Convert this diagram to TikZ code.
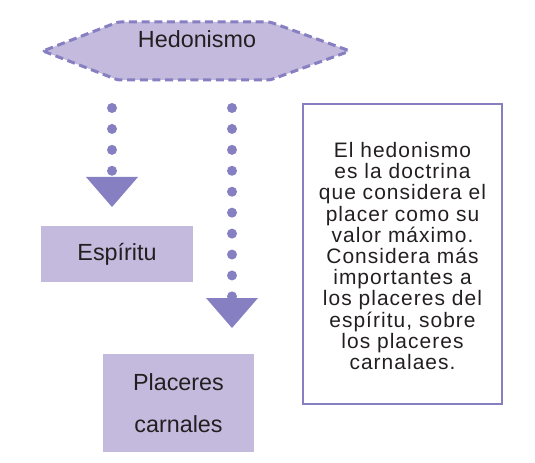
\documentclass[tikz,border=0pt]{standalone}
\usepackage{fontspec}
\setmainfont{Liberation Sans}
\newfontfamily\textoancho[LetterSpace=5]{Liberation Sans}
\usetikzlibrary{arrows.meta}
\definecolor{lila}{RGB}{196,186,221}
\definecolor{morado}{RGB}{134,127,193}
\definecolor{tinta}{RGB}{35,31,32}

\begin{document}
\begin{tikzpicture}[x=0.75pt,y=0.75pt,yscale=-1,xscale=1,
  caja/.style={fill=lila, inner sep=0pt, text=tinta, align=center, font=\fontsize{17.5}{32}\selectfont},
  hexa/.style={fill=lila, draw=morado, line width=2.25pt, dash pattern=on 6pt off 3.5pt, rounded corners=2pt},
  puntos/.style={draw=morado, line width=7.5pt, line cap=round, dash pattern=on 0pt off 15.7pt, -{Triangle[width=39pt,length=22.5pt,line width=0pt]}}
]
\useasboundingbox (0,0) rectangle (535,463);

%Shape: Hexagon [hedonismo]
\draw [hexa] (43,51) -- (118,22) -- (270,22) -- (350,51) -- (270,80) -- (118,80) -- cycle ;
\node [anchor=base, text=tinta, font=\fontsize{17.5}{21}\selectfont] (hedonismo) at (197,48) {Hedonismo};

%Shape: Rectangle [espiritu]
\node [caja, minimum width=114pt, minimum height=42pt] (espiritu) at (117,254) {Espíritu};
%Shape: Rectangle [carnales]
\node [caja, minimum width=113.25pt, minimum height=73.5pt] (carnales) at (178.5,403) {Placeres\\carnales};

%Shape: Rectangle [texto]
\node [draw=morado, line width=1.5pt, inner sep=0pt, minimum width=149.25pt, minimum height=225pt] (texto) at (402.5,254) {};
\node [text=tinta, align=center, font=\textoancho\fontsize{15.7}{15.9}\selectfont] (parrafo) at (402.5,256) {El hedonismo\\es la doctrina\\que considera el\\placer como su\\valor máximo.\\Considera más\\importantes a\\los placeres del\\espíritu, sobre\\los placeres\\carnalaes.};

%Dotted Arrows
\coordinate (ini1) at (112,108);
\coordinate (fin1) at (112,207);
\coordinate (ini2) at (232,108);
\coordinate (fin2) at (232,328);
\draw [puntos] (ini1) -- (fin1) ;
\draw [puntos] (ini2) -- (fin2) ;

\end{tikzpicture}
\end{document}
